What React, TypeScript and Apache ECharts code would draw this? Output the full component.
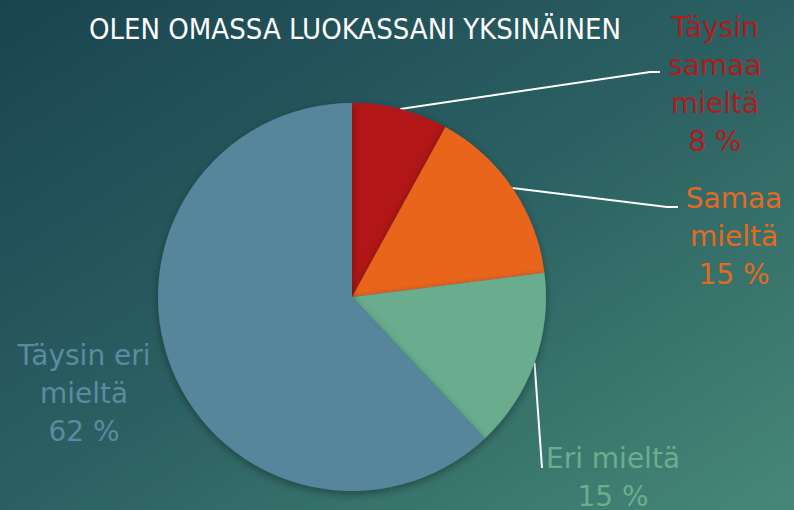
import React, { useEffect, useRef } from "react";
import * as echarts from "echarts";

const title = "OLEN OMASSA LUOKASSANI YKSINÄINEN";
const categories = ["Täysin samaa mieltä", "Samaa mieltä", "Eri mieltä", "Täysin eri mieltä"];
const values = [8, 15, 15, 62];
const labelNames = ["Täysin\nsamaa\nmieltä", "Samaa\nmieltä", "Eri mieltä", "Täysin eri\nmieltä"];
const sliceColors = ["#b21517", "#e9651a", "#69ad8e", "#55869c"];
const labelColors = ["#b01b1b", "#e36a1f", "#6aae8e", "#5a8ba0"];

// label layout (anchor centre of text block, elbow points of leader line)
const labelPos: [number, number][] = [
  [715, 84],
  [734, 236],
  [613, 477],
  [84, 393],
];
const elbows: ([number, number][] | null)[] = [
  [[650, 72], [660, 72]],
  [[667, 207], [678, 207]],
  [[542, 468]],
  null,
];

export default function App() {
  const ref = useRef<HTMLDivElement>(null);
  useEffect(() => {
    if (!ref.current) return;
    const chart = echarts.init(ref.current, undefined, { renderer: "svg" });
    chart.setOption({
      animation: false,
      backgroundColor: {
        type: "linear",
        x: 0,
        y: 0,
        x2: 1,
        y2: 1,
        colorStops: [
          { offset: 0, color: "#1a4450" },
          { offset: 0.5, color: "#2b6062" },
          { offset: 1, color: "#468877" },
        ],
      },
      title: {
        text: title,
        left: 350,
        top: 9,
        textAlign: "center",
        textStyle: {
          color: "#ffffff",
          fontFamily: "'Liberation Sans Narrow', 'DejaVu Sans Condensed', sans-serif",
          fontWeight: "normal",
          fontSize: 29,
        },
      },
      series: [
        {
          type: "pie",
          center: [352, 297],
          radius: 194,
          startAngle: 90,
          clockwise: true,
          percentPrecision: 0,
          data: categories.map((c, i) => ({
            name: c,
            value: values[i],
            itemStyle: { color: sliceColors[i] },
            label: { color: labelColors[i] },
            labelLine: { show: elbows[i] !== null },
          })),
          itemStyle: {
            shadowBlur: 8,
            shadowOffsetY: 3,
            shadowColor: "rgba(0,0,0,0.35)",
          },
          label: {
            show: true,
            position: "outside",
            formatter: (p: any) => `${labelNames[p.dataIndex]}\n${p.percent} %`,
            fontFamily: "'DejaVu Sans', sans-serif",
            fontSize: 28,
            lineHeight: 38,
            align: "center",
          },
          labelLine: {
            show: true,
            length: 10,
            length2: 10,
            lineStyle: { color: "#ffffff", width: 2 },
          },
          labelLayout: (params: any) => {
            const i = params.dataIndex;
            const pos = labelPos[i];
            const out: any = {
              x: pos[0],
              y: pos[1],
              align: "center",
              verticalAlign: "middle",
            };
            const el = elbows[i];
            if (el && params.labelLinePoints) {
              out.labelLinePoints = [params.labelLinePoints[0], ...el];
            }
            return out;
          },
        },
      ],
    });
    return () => chart.dispose();
  }, []);
  return (
    <div
      ref={ref}
      style={{ position: "fixed", left: 0, top: 0, width: 794, height: 510 }}
    />
  );
}
